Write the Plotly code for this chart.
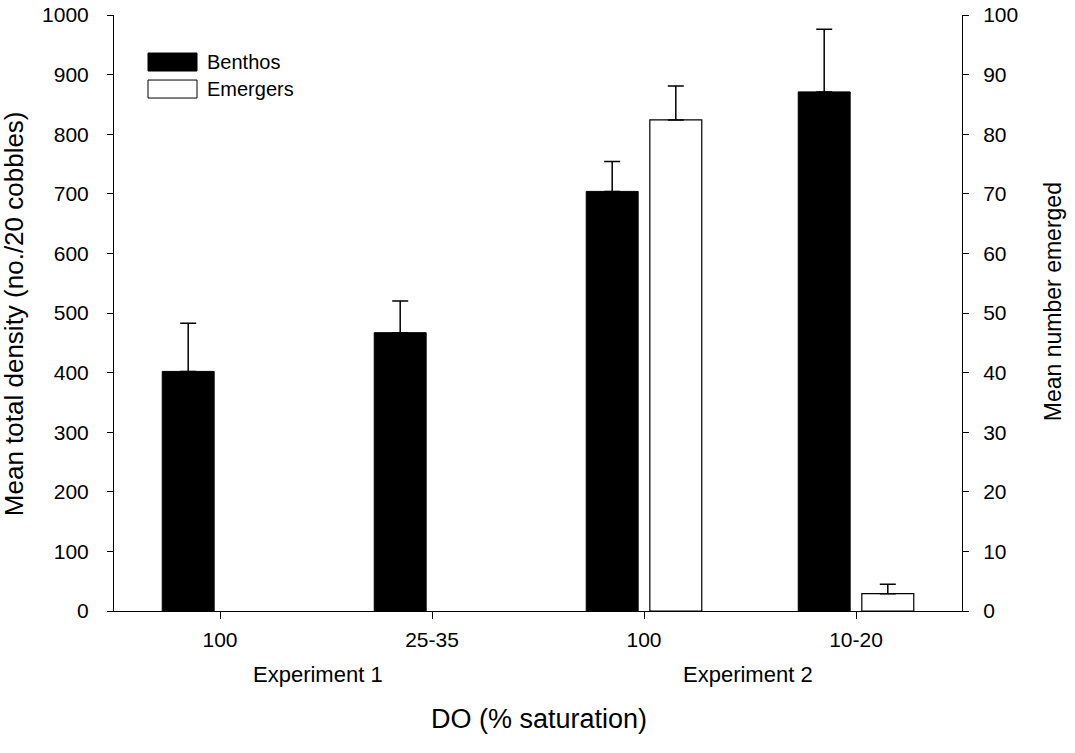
import plotly.graph_objects as go

# ---- data ----
categories = ["100", "25-35", "100", "10-20"]
experiments = ["Experiment 1", "Experiment 2"]
benthos = [402, 467, 704, 871]
benthos_se = [81, 53, 50, 105]
emergers = [None, None, 82.4, 2.9]
emergers_se = [None, None, 5.7, 1.6]

xpos = list(range(len(categories)))

FONT = "Liberation Sans, Arial, sans-serif"
BAR_W = 0.245

fig = go.Figure()
fig.add_trace(go.Bar(
    x=xpos, y=benthos, name="Benthos",
    width=BAR_W, offset=-0.15 - BAR_W / 2,
    marker=dict(color="black", line=dict(color="black", width=1)),
    error_y=dict(type="data", array=benthos_se, arrayminus=[0] * 4,
                 symmetric=False, color="black", thickness=1.5, width=8),
    yaxis="y", showlegend=False,
))
fig.add_trace(go.Bar(
    x=xpos, y=emergers, name="Emergers",
    width=BAR_W, offset=0.15 - BAR_W / 2,
    marker=dict(color="white", line=dict(color="black", width=1.2)),
    error_y=dict(type="data", array=emergers_se, arrayminus=[0] * 4,
                 symmetric=False, color="black", thickness=1.5, width=8),
    yaxis="y2", showlegend=False,
))

# figure size (page body margin removed via post_script)
W, H = 1075, 753
# plot area in page pixels
L, R, T, B = 114, 962, 15, 610.7

def px(x):
    return (x - L) / (R - L)

def py(y):
    return (B - y) / (B - T)

fig.update_layout(
    width=W, height=H,
    margin=dict(l=L, r=W - R, t=T, b=H - B, autoexpand=False),
    paper_bgcolor="white", plot_bgcolor="white",
    barmode="overlay",
    font=dict(family=FONT, size=21, color="black"),
    showlegend=False,
    xaxis=dict(
        range=[-0.5, 3.5], tickvals=xpos, ticktext=categories,
        showline=True, linecolor="black", linewidth=1,
        ticks="outside", ticklen=7, tickcolor="black",
        showgrid=False, zeroline=False, ticklabelstandoff=3,
        tickfont=dict(size=21), automargin=False,
    ),
    yaxis=dict(
        range=[0, 1000], tickvals=list(range(0, 1001, 100)),
        showline=True, linecolor="black", linewidth=1,
        ticks="outside", ticklen=6, tickcolor="black",
        showgrid=False, zeroline=False, ticklabelstandoff=14,
        tickfont=dict(size=21), automargin=False, ticklabeloverflow="allow",
    ),
    yaxis2=dict(
        range=[0, 100], tickvals=list(range(0, 101, 10)),
        overlaying="y", side="right",
        showline=True, linecolor="black", linewidth=1,
        ticks="outside", ticklen=6, tickcolor="black",
        showgrid=False, zeroline=False, ticklabelstandoff=10,
        tickfont=dict(size=21), automargin=False, ticklabeloverflow="allow",
    ),
)

C = dict(xanchor="center", yanchor="middle", showarrow=False)
annotations = [
    dict(text="Mean total density (no./20 cobbles)", textangle=-90,
         x=px(14), y=py(314), xref="paper", yref="paper",
         font=dict(size=26), **C),
    dict(text="Mean number emerged", textangle=-90,
         x=px(1053), y=py(302), xref="paper", yref="paper",
         font=dict(size=23), **C),
    dict(text="DO (% saturation)", x=px(539), y=py(719),
         xref="paper", yref="paper", font=dict(size=27), **C),
    dict(text=experiments[0], x=0.46, y=py(674), xref="x", yref="paper",
         font=dict(size=22), **C),
    dict(text=experiments[1], x=2.49, y=py(674), xref="x", yref="paper",
         font=dict(size=22), **C),
    dict(text="Benthos", x=px(205), y=py(62), xref="paper", yref="paper",
         xanchor="left", yanchor="middle", showarrow=False, font=dict(size=20)),
    dict(text="Emergers", x=px(205), y=py(89), xref="paper", yref="paper",
         xanchor="left", yanchor="middle", showarrow=False, font=dict(size=20)),
]
fig.update_layout(annotations=annotations)

fig.add_shape(type="rect", xref="paper", yref="paper",
              x0=px(148), x1=px(197), y0=py(71), y1=py(53),
              fillcolor="black", line=dict(color="black", width=1))
fig.add_shape(type="rect", xref="paper", yref="paper",
              x0=px(148), x1=px(197), y0=py(98), y1=py(80),
              fillcolor="white", line=dict(color="black", width=1))

fig.write_html(
    "out.html",
    config={"displayModeBar": False},
    post_script="document.body.style.margin='0';document.body.style.overflow='hidden';",
)
